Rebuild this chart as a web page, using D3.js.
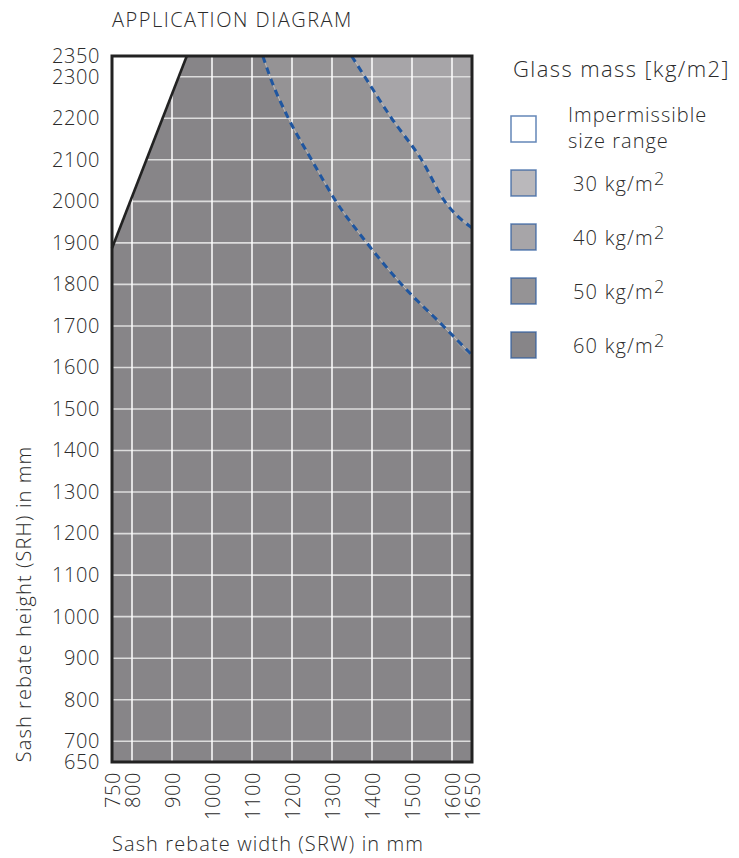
<!DOCTYPE html>
<html lang="en">
<head>
    <meta charset="UTF-8">
    <title>Application diagram</title>
    <script src="https://cdn.jsdelivr.net/npm/d3@7"></script>
    <style>
        body { margin: 0; background: #fff; }
        svg text { font-family: "Open Sans", "Noto Sans", sans-serif; font-weight: 300; fill: #2b2b2b; }
    </style>
</head>
<body>
<svg id="chart" width="739" height="858"></svg>
<script>
    // axis ticks
    var xTicks = [750, 800, 900, 1000, 1100, 1200, 1300, 1400, 1500, 1600, 1650];
    var yTicks = [650, 700, 800, 900, 1000, 1100, 1200, 1300, 1400, 1500, 1600, 1700, 1800, 1900, 2000, 2100, 2200, 2300, 2350];
    var xGrid = [800, 900, 1000, 1100, 1200, 1300, 1400, 1500, 1600];
    var yGrid = [700, 800, 900, 1000, 1100, 1200, 1300, 1400, 1500, 1600, 1700, 1800, 1900, 2000, 2100, 2200, 2300];

    // boundaries [SRW, SRH]
    var limitLine = [[750, 1887], [937, 2350]];
    var limit60 = [[1127, 2350], [1145, 2300], [1191, 2200], [1249, 2100], [1310, 2000], [1387, 1900], [1474, 1800], [1578, 1700], [1650, 1630]];
    var limit50 = [[1349, 2350], [1382, 2300], [1449, 2200], [1524, 2100], [1582, 2000], [1650, 1936]];

    // legend
    var legendLabels = ["Impermissible|size range", "30 kg/m", "40 kg/m", "50 kg/m", "60 kg/m"];
    var legendColors = ["#ffffff", "#bab8bb", "#a7a5a8", "#959395", "#878588"];

    var svg = d3.select("#chart");
    var x = d3.scaleLinear().domain([750, 1650]).range([112, 472]);
    var y = d3.scaleLinear().domain([650, 2350]).range([762, 56]);
    var line = d3.line().x(function (d) { return x(d[0]); }).y(function (d) { return y(d[1]); });
    var smooth = d3.line().curve(d3.curveMonotoneX)
        .x(function (d) { return x(d[0]); }).y(function (d) { return y(d[1]); });

    svg.append("text").attr("x", 112).attr("y", 27)
        .style("font-size", "20px").style("letter-spacing", "1.5px").text("APPLICATION DIAGRAM");

    // regions
    svg.append("rect").attr("x", x(750)).attr("y", y(2350))
        .attr("width", x(1650) - x(750)).attr("height", y(650) - y(2350))
        .attr("fill", legendColors[4]);
    svg.append("path").attr("d", smooth(limit60.concat([[1650, 2350]])) + "Z").attr("fill", legendColors[3]);
    svg.append("path").attr("d", smooth(limit50) + "L" + x(1650) + "," + y(2350) + "Z").attr("fill", legendColors[2]);

    // grid
    svg.append("g").selectAll("line").data(yGrid).enter().append("line")
        .attr("x1", x(750)).attr("x2", x(1650))
        .attr("y1", function (d) { return y(d); }).attr("y2", function (d) { return y(d); })
        .attr("stroke", "#dcdcdc").attr("stroke-width", 1.6);
    svg.append("g").selectAll("line").data(xGrid).enter().append("line")
        .attr("y1", y(650)).attr("y2", y(2350))
        .attr("x1", function (d) { return x(d); }).attr("x2", function (d) { return x(d); })
        .attr("stroke", "#ffffff").attr("stroke-width", 1.5);

    // impermissible corner
    svg.append("path").attr("d", line(limitLine.concat([[750, 2350]])) + "Z").attr("fill", "#fff");

    // boundaries
    [limit60, limit50].forEach(function (pts) {
        svg.append("path").attr("d", smooth(pts)).attr("fill", "none")
            .attr("stroke", "#c8c8c8").attr("stroke-width", 0.8);
        svg.append("path").attr("d", smooth(pts)).attr("fill", "none")
            .attr("stroke", "#1f56a0").attr("stroke-width", 3)
            .attr("stroke-dasharray", "7,5");
    });
    svg.append("path").attr("d", line(limitLine)).attr("fill", "none")
        .attr("stroke", "#222").attr("stroke-width", 2.6);

    svg.append("rect").attr("x", x(750)).attr("y", y(2350))
        .attr("width", x(1650) - x(750)).attr("height", y(650) - y(2350))
        .attr("fill", "none").attr("stroke", "#222").attr("stroke-width", 3);

    // axes
    var yAxis = svg.append("g").attr("transform", "translate(" + x(750) + ",0)")
        .call(d3.axisLeft(y).tickValues(yTicks).tickSize(0).tickPadding(12).tickFormat(d3.format("d")));
    yAxis.select(".domain").remove();

    var xAxis = svg.append("g").attr("transform", "translate(0," + y(650) + ")")
        .call(d3.axisBottom(x).tickValues(xTicks).tickSize(0).tickFormat(d3.format("d")));
    xAxis.select(".domain").remove();
    xAxis.selectAll("text")
        .attr("text-anchor", "end").attr("dy", "0.36em")
        .attr("transform", "rotate(-90)")
        .attr("x", -10).attr("y", 0);

    svg.selectAll("g").filter(function () { return this.hasAttribute("font-family"); })
        .attr("font-family", null).attr("font-size", null);
    svg.selectAll("g.tick text").style("font-size", "20px").style("letter-spacing", "0.6px")
        .attr("fill", "#2b2b2b");

    svg.append("text").attr("x", 112).attr("y", 851)
        .style("font-size", "20px").style("letter-spacing", "1.1px").text("Sash rebate width (SRW) in mm");
    svg.append("text").attr("transform", "translate(31,604) rotate(-90)")
        .attr("text-anchor", "middle").style("font-size", "20px").style("letter-spacing", "1.1px")
        .text("Sash rebate height (SRH) in mm");

    // legend
    var lg = svg.append("g");
    lg.append("text").attr("x", 513).attr("y", 77).style("font-size", "22px").style("letter-spacing", "1.4px")
        .text("Glass mass [kg/m2]");
    var item = lg.selectAll("g.item").data(legendLabels).enter().append("g")
        .attr("class", "item")
        .attr("transform", function (d, i) { return "translate(511," + (116 + i * 54) + ")"; });
    item.append("rect").attr("width", 25).attr("height", 26)
        .attr("fill", function (d, i) { return legendColors[i]; })
        .attr("stroke", "#2f5e9f").attr("stroke-opacity", 0.75).attr("stroke-width", 1.5);
    item.each(function (d, i) {
        var g = d3.select(this);
        if (i === 0) {
            var parts = d.split("|");
            g.append("text").attr("x", 57).attr("y", 6).style("font-size", "20px").style("letter-spacing", "1px").text(parts[0]);
            g.append("text").attr("x", 57).attr("y", 32).style("font-size", "20px").style("letter-spacing", "1px").text(parts[1]);
        } else {
            var t = g.append("text").attr("x", 62).attr("y", 21).style("font-size", "20px").style("letter-spacing", "1.2px").text(d);
            t.append("tspan").attr("dy", -6).style("font-size", "18px").text("2");
        }
    });
</script>
</body>
</html>
